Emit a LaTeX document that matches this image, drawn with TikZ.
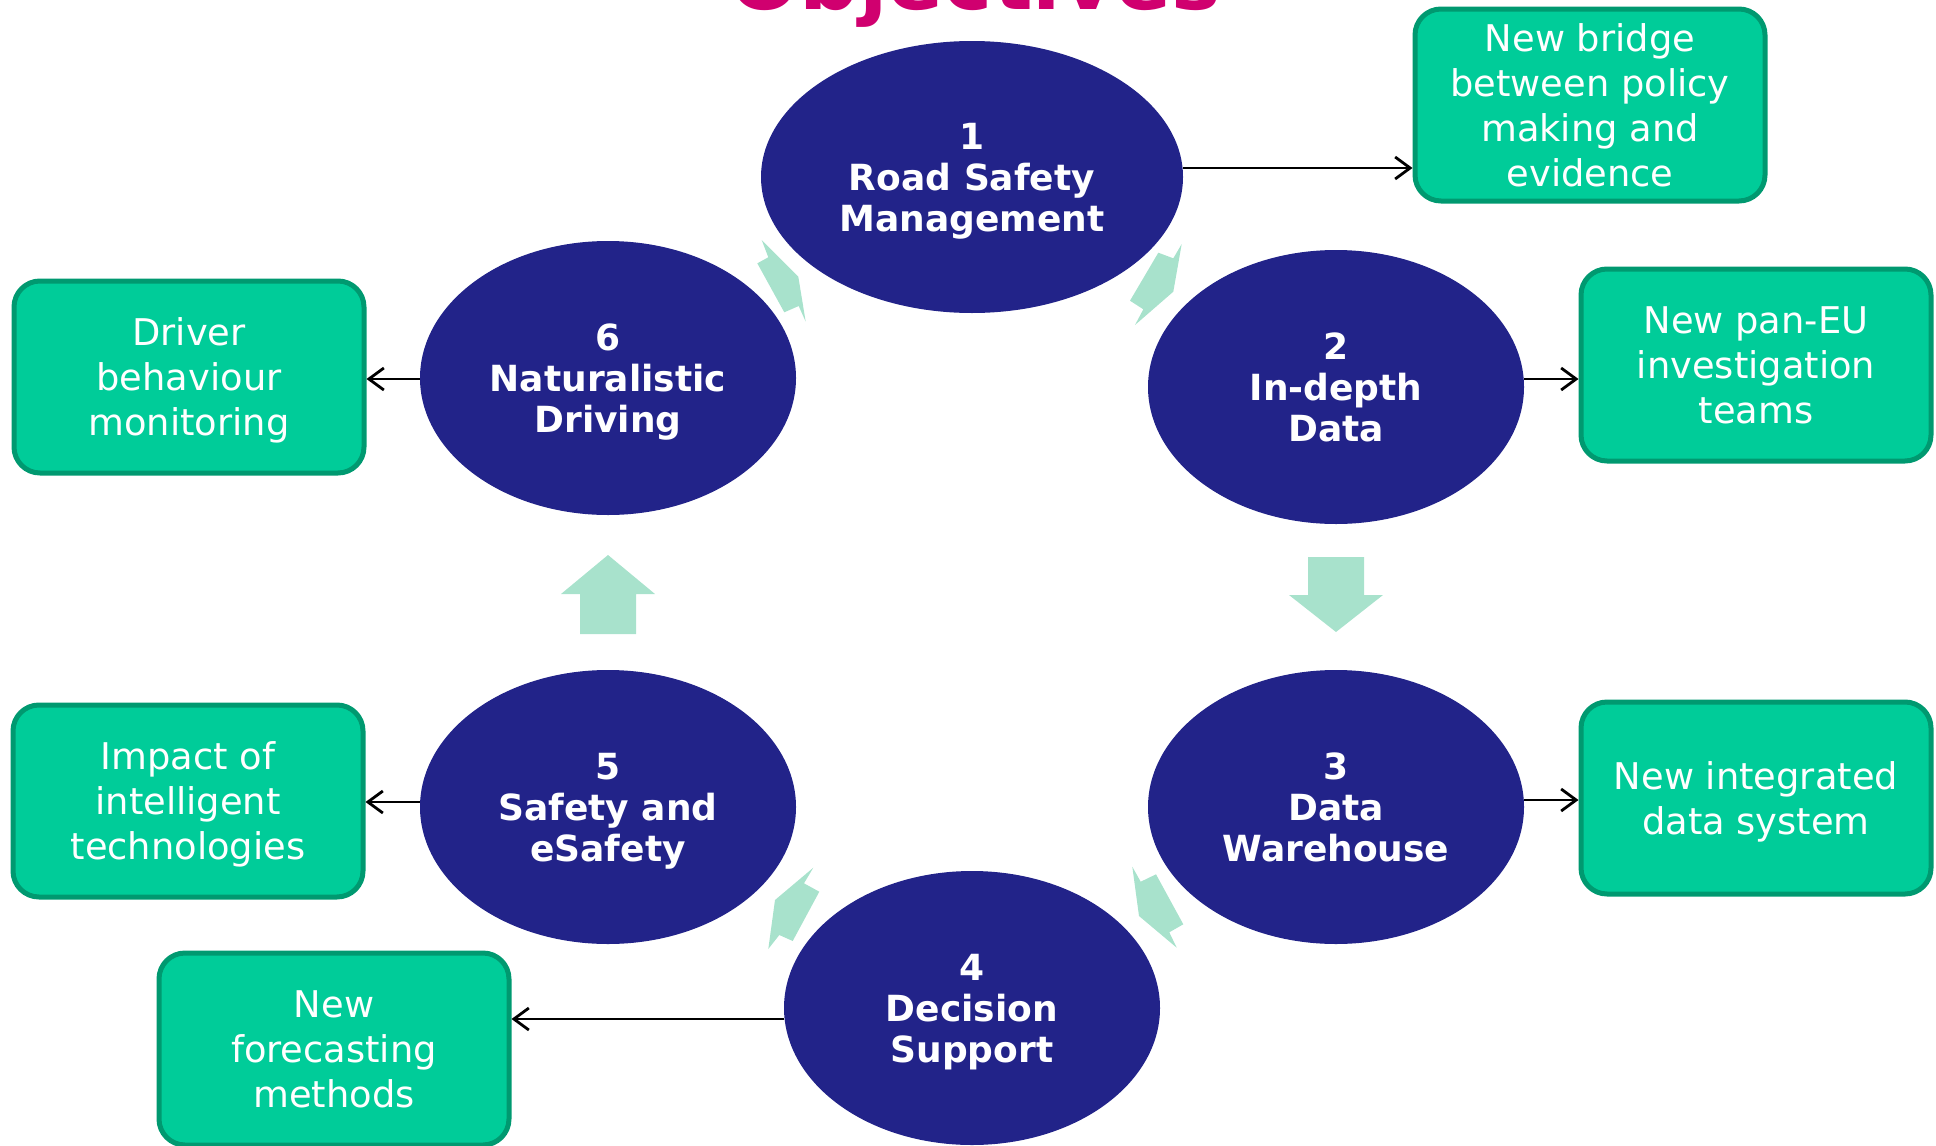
\documentclass[tikz,border=0pt]{standalone}
\usepackage{fontspec}
\setmainfont{DejaVu Sans}
\usetikzlibrary{shapes.geometric,arrows.meta}
\definecolor{navy}{RGB}{34,35,137}
\definecolor{boxfill}{RGB}{0,204,153}
\definecolor{boxline}{RGB}{0,153,112}
\definecolor{cyclearrow}{RGB}{168,226,204}
\definecolor{titlecol}{RGB}{208,0,111}
\begin{document}
\begin{tikzpicture}[x=1pt,y=-1pt,
  stage/.style={ellipse, fill=navy, text=white, font=\fontsize{36}{41}\selectfont\bfseries,
    align=center, inner sep=0pt, text depth=0pt, minimum width=376pt, minimum height=274pt},
  outcome/.style={rectangle, rounded corners=26pt, fill=boxfill, draw=boxline, line width=5pt,
    text=white, font=\fontsize{36.8}{45}\selectfont, align=center, text depth=0pt,
    minimum width=350pt, minimum height=192pt, inner sep=0pt},
  conn/.style={line width=2.8pt, -{Straight Barb[length=15pt,width=22pt,line width=2.8pt]}},
  cyc/.style={fill=cyclearrow, draw=none}]
\useasboundingbox (0,0) rectangle (1936,1146);
\clip (0,0) rectangle (1936,1146);

% title (mostly cut off at the top)
\node[font=\fontsize{83}{83}\selectfont\bfseries, text=titlecol, anchor=base, inner sep=0pt] (title) at (975,9) {Objectives};

% stages
\node[stage, minimum width=422pt, minimum height=272pt] (e1) at (972,177) {1\\Road Safety\\Management};
\node[stage] (e2) at (1336,387) {2\\In-depth\\Data};
\node[stage] (e3) at (1336,807) {3\\Data\\Warehouse};
\node[stage] (e4) at (972,1008) {4\\Decision\\Support};
\node[stage] (e5) at (608,807) {5\\Safety and\\eSafety};
\node[stage] (e6) at (608,378) {6\\Naturalistic\\Driving};

% outcomes
\node[outcome] (A) at (1590,105) {New bridge\\between policy\\making and\\evidence};
\node[outcome] (B) at (1756,365) {New pan-EU\\investigation\\teams};
\node[outcome] (C) at (1756,798) {New integrated\\data system};
\node[outcome] (D) at (334,1049) {New\\forecasting\\methods};
\node[outcome] (E) at (188,801) {Impact of\\intelligent\\technologies};
\node[outcome] (F) at (189,377) {Driver\\behaviour\\monitoring};

% connectors
\path ([yshift=9pt]e1.east) coordinate (s1)
      ([yshift=8pt]e2.east) coordinate (s2)
      ([yshift=7pt]e3.east) coordinate (s3)
      ([yshift=-11pt]e4.west) coordinate (s4)
      ([yshift=5pt]e5.west) coordinate (s5)
      ([yshift=-1pt]e6.west) coordinate (s6);
\draw[conn] (s1) -- (s1 -| A.west);
\draw[conn] (s2) -- (s2 -| B.west);
\draw[conn] (s3) -- (s3 -| C.west);
\draw[conn] (s4) -- (s4 -| D.east);
\draw[conn] (s5) -- (s5 -| E.east);
\draw[conn] (s6) -- (s6 -| F.east);

% cycle arrows
\fill[cyc] (1308,557) -- (1364,557) -- (1364,595) -- (1383,595) -- (1336,632) -- (1289,595) -- (1308,595) -- cycle;
\fill[cyc] (608,555) -- (655,594) -- (636,594) -- (636,634) -- (580,634) -- (580,594) -- (561,594) -- cycle;
\fill[cyc] (761.7,240) -- (768.3,257.3) -- (757.3,263.3) -- (784.3,312.3) -- (798.7,306) -- (805.7,321.7) -- (798.3,276.7) -- cycle;
\fill[cyc] (1181.7,244) -- (1173.3,258.3) -- (1158.3,252.7) -- (1130,300.7) -- (1143.3,309.3) -- (1135,325) -- (1173.3,291.7) -- cycle;
\fill[cyc] (1132.3,866.7) -- (1140.7,881.7) -- (1156,874.3) -- (1183.3,924.3) -- (1169.3,932.3) -- (1176.7,947.7) -- (1139,916) -- cycle;
\fill[cyc] (813.3,867.7) -- (804,883.3) -- (819.3,891.7) -- (792.7,941) -- (779.3,935) -- (768.3,949) -- (775,900) -- cycle;
\end{tikzpicture}
\end{document}
